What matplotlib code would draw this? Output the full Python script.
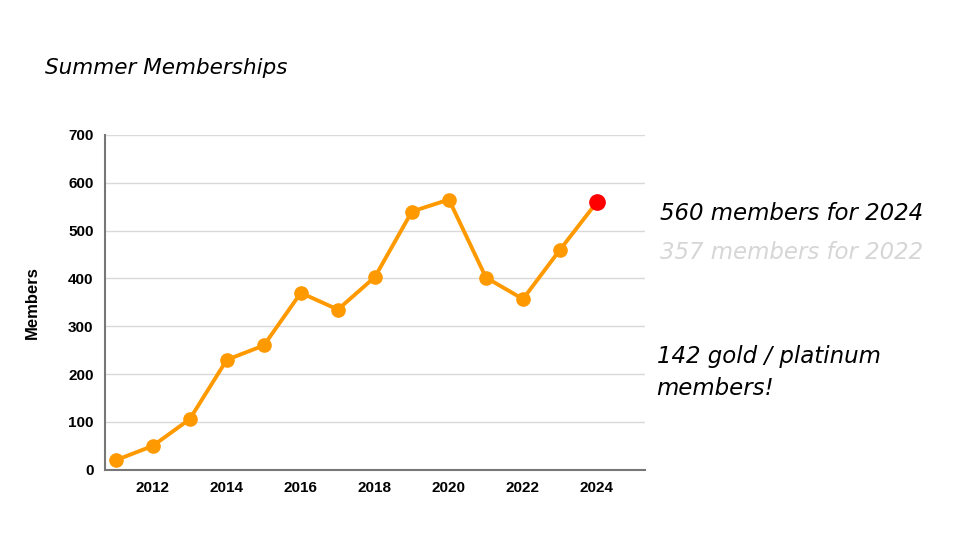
import matplotlib
matplotlib.use("Agg")
from matplotlib import pyplot as plt

years = [2011, 2012, 2013, 2014, 2015, 2016, 2017, 2018, 2019, 2020, 2021, 2022, 2023, 2024]
members = [20, 50, 106, 230, 260, 370, 335, 403, 540, 565, 402, 357, 460, 560]
x_ticks = [2012, 2014, 2016, 2018, 2020, 2022, 2024]
y_ticks = [0, 100, 200, 300, 400, 500, 600, 700]

hand = dict(family="DejaVu Sans", style="italic")

fig = plt.figure(figsize=(9.6, 5.4), dpi=100)
ax = fig.add_axes([0.109, 0.13, 0.563, 0.62])

ax.plot(years, members, color="#ff9900", lw=2.8, marker="o", ms=9.5, zorder=3)
ax.plot(years[-1], members[-1], "o", color="#ff0000", ms=11, zorder=4)

ax.set_xlim(2010.7, 2025.3)
ax.set_ylim(0, 700)
ax.set_xticks(x_ticks)
ax.set_yticks(y_ticks)
ax.grid(axis="y", color="#d9d9d9", lw=1)
ax.set_axisbelow(True)
for s in ["top", "right"]:
    ax.spines[s].set_visible(False)
for s in ["left", "bottom"]:
    ax.spines[s].set_color("#777777")
    ax.spines[s].set_linewidth(1.5)
ax.tick_params(length=0, pad=8)
for lab in ax.get_xticklabels() + ax.get_yticklabels():
    lab.set_family("Liberation Sans")
    lab.set_fontweight("bold")
    lab.set_fontsize(11)
ax.set_ylabel("Members", family="Liberation Sans", fontweight="bold", fontsize=12, labelpad=20)

fig.text(0.047, 0.875, "Summer Memberships", fontsize=15.5, va="center", **hand)
fig.text(0.688, 0.605, "560 members for 2024", fontsize=16.5, color="black", va="center", **hand)
fig.text(0.688, 0.533, "357 members for 2022", fontsize=16.5, color="#d6d6d6", va="center", **hand)
fig.text(0.684, 0.31, "142 gold / platinum\nmembers!", fontsize=16.5, color="black",
         va="center", linespacing=1.5, **hand)

fig.savefig("out.png", dpi=100)
